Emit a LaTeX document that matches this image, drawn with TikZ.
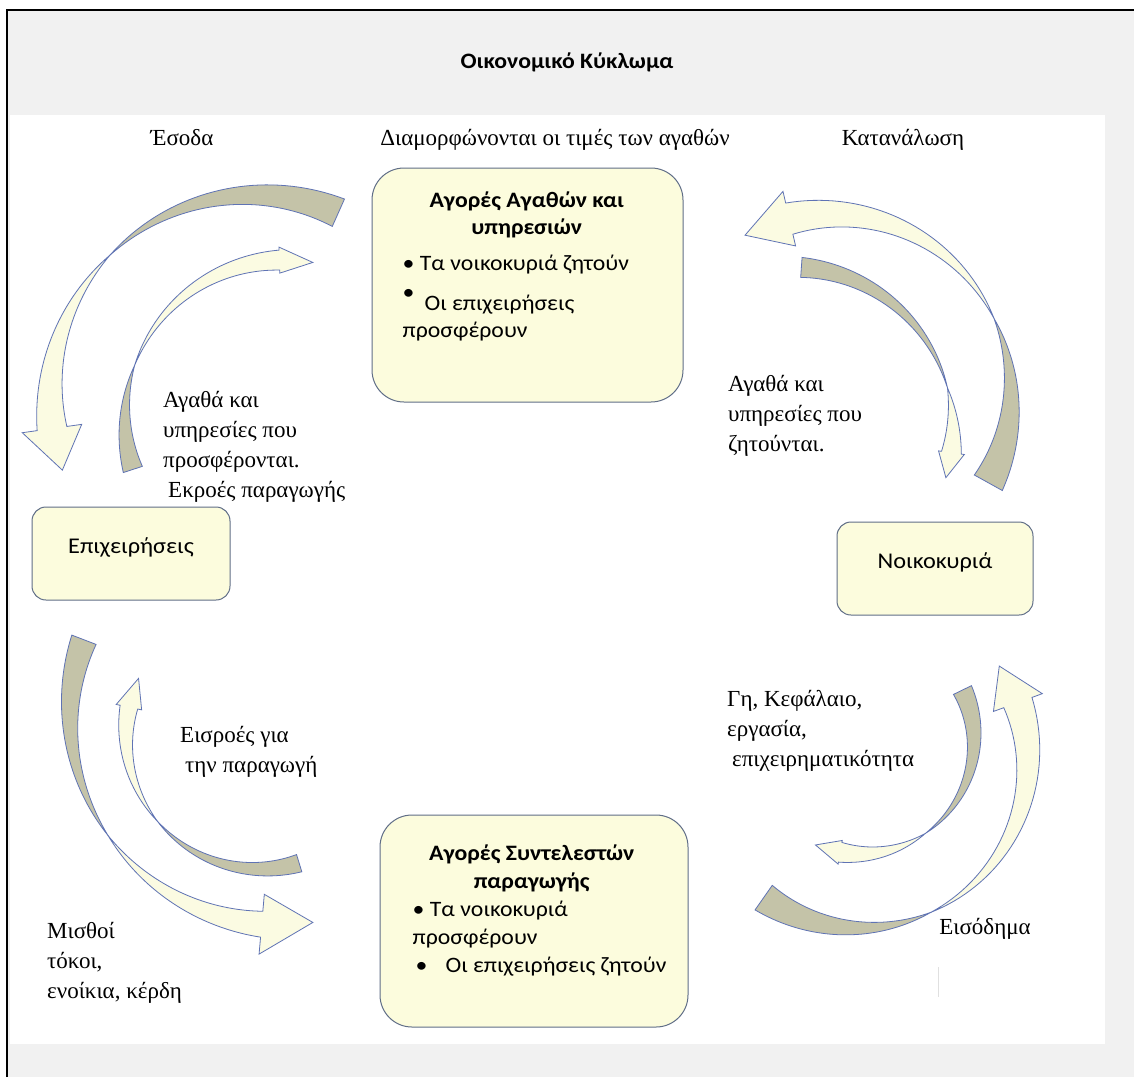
\documentclass[tikz,border=0pt]{standalone}
\usepackage{fontspec}
\setmainfont{Liberation Serif}
\newfontfamily\boxfont[FakeStretch=1.08]{Carlito}
\usepackage{tikz}
\usetikzlibrary{positioning}
\definecolor{bgray}{RGB}{241,241,241}
\definecolor{boxfill}{RGB}{252,252,221}
\definecolor{boxline}{RGB}{96,110,135}
\definecolor{backcol}{RGB}{196,195,168}
\definecolor{frontcol}{RGB}{251,251,226}
\definecolor{arrline}{RGB}{95,115,180}
\tikzstyle{market}=[draw=boxline, fill=boxfill, line width=1pt, rounded corners=32pt, minimum width=311pt, minimum height=234pt]
\tikzstyle{agent}=[draw=boxline, fill=boxfill, line width=1pt, rounded corners=14pt, minimum width=198pt, minimum height=93pt, text height=0pt, text depth=0pt, font=\boxfont\fontsize{22.5}{27}\selectfont]
\tikzstyle{mtext}=[inner sep=0pt, font=\boxfont\fontsize{22}{27}\selectfont]
\tikzstyle{lbl}=[align=left, inner sep=0pt, font=\fontsize{23}{30}\selectfont]
\tikzstyle{backface}=[fill=backcol, draw=arrline, line width=0.8pt]
\tikzstyle{frontface}=[fill=frontcol, draw=arrline, line width=0.8pt]
% centre x, centre y, radius, tail, twist, head base, width, head half width, tip (angles)
\newcommand{\twistarrow}[9]{%
  \filldraw[backface] plot[domain=#4:#5,samples=40] ({#1+(#3+(#7)/2*((#5)-\x)/((#5)-(#4)))*cos(\x)},{#2+(#3+(#7)/2*((#5)-\x)/((#5)-(#4)))*sin(\x)})
    -- plot[domain=#5:#4,samples=40] ({#1+(#3-(#7)/2*((#5)-\x)/((#5)-(#4)))*cos(\x)},{#2+(#3-(#7)/2*((#5)-\x)/((#5)-(#4)))*sin(\x)}) -- cycle;
  \filldraw[frontface] plot[domain=#5:#6,samples=40] ({#1+(#3+(#7)/2*(\x-(#5))/((#6)-(#5)))*cos(\x)},{#2+(#3+(#7)/2*(\x-(#5))/((#6)-(#5)))*sin(\x)})
    -- ({#1+(#3+#8)*cos(#6)},{#2+(#3+#8)*sin(#6)})
    -- ({#1+(#3)*cos(#9)},{#2+(#3)*sin(#9)})
    -- ({#1+(#3-#8)*cos(#6)},{#2+(#3-#8)*sin(#6)})
    -- plot[domain=#6:#5,samples=40] ({#1+(#3-(#7)/2*(\x-(#5))/((#6)-(#5)))*cos(\x)},{#2+(#3-(#7)/2*(\x-(#5))/((#6)-(#5)))*sin(\x)}) -- cycle;
}

\begin{document}
\begin{tikzpicture}[x=1pt,y=-1pt,font=\boxfont]
\useasboundingbox (0,0) rectangle (1134,1077);
\fill[bgray] (7,10) rectangle (1134,1077);
\fill[white] (10,115) rectangle (1105,1044);
\draw[line width=2.5pt] (7,1077) -- (7,10) -- (1134,10);

\node[font=\boxfont\bfseries\fontsize{22}{26}\selectfont] (title) at (567,62) {Οικονομικό Κύκλωμα};

\node[market] (agath) at (527.5,285) {};
\node[market, minimum width=308pt, minimum height=212pt] (synt) at (534,921) {};
\node[agent] (epix) at (131,553.5) {Επιχειρήσεις};
\node[agent, minimum width=196pt] (noik) at (935,568.5) {Νοικοκυριά};

\node[mtext, below right=21pt and 31pt of agath.north west] (agathtxt) {\begin{tabular}{@{}l@{}}
\hspace*{124pt}\makebox[0pt]{\bfseries Αγορές Αγαθών και}\\
\hspace*{124pt}\makebox[0pt]{\bfseries υπηρεσιών}\\[9pt]
\textbullet\ Τα νοικοκυριά ζητούν\\[13pt]
\smash{\raisebox{11pt}{\textbullet}}\hspace{10pt}Οι επιχειρήσεις\\
προσφέρουν
\end{tabular}};
\node[mtext, below right=26pt and 33pt of synt.north west, font=\boxfont\fontsize{22}{28}\selectfont] (synttxt) {\begin{tabular}{@{}l@{}}
\hspace*{119pt}\makebox[0pt]{\bfseries Αγορές Συντελεστών}\\
\hspace*{119pt}\makebox[0pt]{\bfseries παραγωγής}\\
\textbullet\ Τα νοικοκυριά\\
προσφέρουν\\
\hspace*{3pt}\textbullet\hspace{18pt}Οι επιχειρήσεις ζητούν
\end{tabular}};

\twistarrow{255}{400}{205}{-66}{-135}{-188}{30}{30}{-200}
\twistarrow{285}{420}{160}{162}{200}{268}{20}{13}{280}
\twistarrow{830}{395}{181}{29}{-25}{-103}{32}{28}{-118}
\twistarrow{790}{430}{163}{-86}{-15}{8}{20}{13}{17}
\twistarrow{280}{715}{210}{201}{145}{95}{26}{30}{81}
\twistarrow{260}{735}{134}{73}{140}{192}{18}{13}{205}
\twistarrow{860}{760}{168}{125}{65}{-20}{30}{26}{-34}
\twistarrow{860}{740}{114}{-26}{55}{100}{20}{12}{113}

\node[lbl, anchor=base] (esoda) at (182,145) {Έσοδα};
\node[lbl, anchor=base] (times) at (555,145) {Διαμορφώνονται οι τιμές των αγαθών};
\node[lbl, anchor=base] (katan) at (903,145) {Κατανάλωση};
\node[lbl, anchor=north west] (ekroes) at (163,391) {Αγαθά και\\υπηρεσίες που\\προσφέρονται.\\\hspace*{5pt}Εκροές παραγωγής};
\node[lbl, anchor=north west] (zitoun) at (728,375) {Αγαθά και\\υπηρεσίες που\\ζητούνται.};
\node[lbl, anchor=north west] (eisroes) at (180,726) {Εισροές για\\\hspace*{5pt}την παραγωγή};
\node[lbl, anchor=north west] (misthoi) at (47,922) {Μισθοί\\τόκοι,\\ενοίκια, κέρδη};
\node[lbl, anchor=north west] (syntel) at (727,690) {Γη, Κεφάλαιο,\\εργασία,\\\hspace*{5pt}επιχειρηματικότητα};
\node[lbl, anchor=base] (eisod) at (985,934) {Εισόδημα};
\draw[black!12, line width=1pt] (938,967) -- (938,997);
\end{tikzpicture}
\end{document}
